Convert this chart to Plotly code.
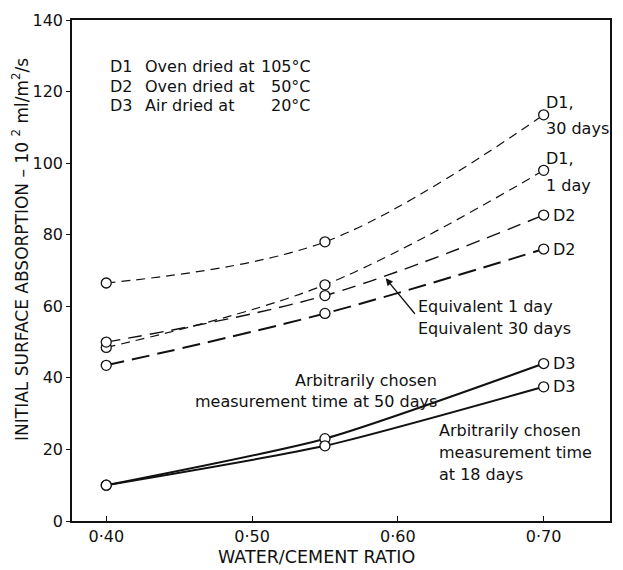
import plotly.graph_objects as go

# ---- data ----
wc_ratio = [0.40, 0.55, 0.70]
d1_30days = [66.5, 78.0, 113.5]
d1_1day = [48.5, 66.0, 98.0]
d2_equiv_1day = [50.0, 63.0, 85.5]
d2_equiv_30days = [43.5, 58.0, 76.0]
d3_50days = [10.0, 23.0, 44.0]
d3_18days = [10.0, 21.0, 37.5]

x_tickvals = [0.40, 0.50, 0.60, 0.70]
x_ticktext = ["0·40", "0·50", "0·60", "0·70"]
y_tickvals = [0, 20, 40, 60, 80, 100, 120, 140]

FONT = "DejaVu Sans"
BLACK = "#111111"

fig = go.Figure()

def add_series(y, dash, width, smoothing=1.0):
    fig.add_trace(go.Scatter(
        x=wc_ratio, y=y, mode="lines",
        line=dict(color=BLACK, width=width, dash=dash, shape="spline", smoothing=smoothing),
        hoverinfo="skip", showlegend=False))

add_series(d1_30days, "9px,6px", 1.2)
add_series(d1_1day, "9px,6px", 1.2)
add_series(d2_equiv_1day, "14px,8px", 1.4)
add_series(d2_equiv_30days, "18px,8px", 2.0)
add_series(d3_50days, "solid", 2.0, 0.6)
add_series(d3_18days, "solid", 2.0, 0.6)

for y in [d1_30days, d1_1day, d2_equiv_1day, d2_equiv_30days, d3_50days, d3_18days]:
    fig.add_trace(go.Scatter(
        x=wc_ratio, y=y, mode="markers",
        marker=dict(symbol="circle", size=10, color="white", line=dict(color=BLACK, width=1.3)),
        hoverinfo="skip", showlegend=False))

anns = []
def txt(x, y, s, xanchor="left", yanchor="middle", xref="x", yref="y", size=16, angle=0):
    anns.append(dict(x=x, y=y, xref=xref, yref=yref, text=s, showarrow=False,
                     xanchor=xanchor, yanchor=yanchor, textangle=angle,
                     font=dict(family=FONT, size=size, color=BLACK)))

# key text
for yy, code, desc, temp in [(127.0, "D1", "Oven dried at", "105°C"),
                             (121.5, "D2", "Oven dried at", "50°C"),
                             (116.0, "D3", "Air dried at", "20°C")]:
    txt(0.401, yy, code)
    txt(0.425, yy, desc)
    txt(0.542, yy, temp, xanchor="right")

# right-hand series labels
txt(0.7004, 117.0, "D1,")
txt(0.7004, 109.6, "30 days")
txt(0.7004, 101.3, "D1,")
txt(0.7004, 93.8, "1 day")
txt(0.7052, 85.5, "D2")
txt(0.7052, 76.0, "D2")
txt(0.7052, 44.0, "D3")
txt(0.7052, 37.5, "D3")

# mid labels
txt(0.6125, 60.0, "Equivalent 1 day")
txt(0.6125, 53.7, "Equivalent 30 days")
txt(0.6285, 39.4, "Arbitrarily chosen", xanchor="right")
txt(0.6285, 33.5, "measurement time at 50 days", xanchor="right")
txt(0.6265, 25.2, "Arbitrarily chosen")
txt(0.6265, 19.1, "measurement time")
txt(0.6265, 13.0, "at 18 days")

# arrow
anns.append(dict(x=0.5917, y=67.8, ax=0.6125, ay=57.5, xref="x", yref="y",
                 axref="x", ayref="y", showarrow=True, arrowhead=2, arrowsize=1.1,
                 arrowwidth=1.3, arrowcolor=BLACK, text=""))

# axis titles
txt(-0.0963, 0.5415, "INITIAL SURFACE ABSORPTION – 10 <sup>2</sup> ml/m<sup>2</sup>/s",
    xanchor="center", xref="paper", yref="paper", angle=-90, size=17)
txt(0.454, -0.071, "WATER/CEMENT RATIO", xanchor="center", xref="paper", yref="paper", size=17.5)

fig.update_layout(
    width=623, height=570,
    margin=dict(l=72, r=11, t=15, b=49),
    paper_bgcolor="white", plot_bgcolor="white",
    font=dict(family=FONT, size=16, color=BLACK),
    annotations=anns,
    xaxis=dict(range=[0.3765, 0.7455], tickvals=x_tickvals, ticktext=x_ticktext,
               ticks="inside", ticklen=5, tickwidth=1.3, tickcolor=BLACK,
               showline=True, linecolor=BLACK, linewidth=1.6, mirror=True,
               showgrid=False, zeroline=False,
               tickfont=dict(family=FONT, size=16, color=BLACK)),
    yaxis=dict(range=[0, 140], tickvals=y_tickvals,
               ticks="outside", ticklen=4, tickwidth=1.3, tickcolor=BLACK,
               showline=True, linecolor=BLACK, linewidth=1.6, mirror=True,
               showgrid=False, zeroline=False,
               tickfont=dict(family=FONT, size=16, color=BLACK)),
)

fig.write_html("out.html")
